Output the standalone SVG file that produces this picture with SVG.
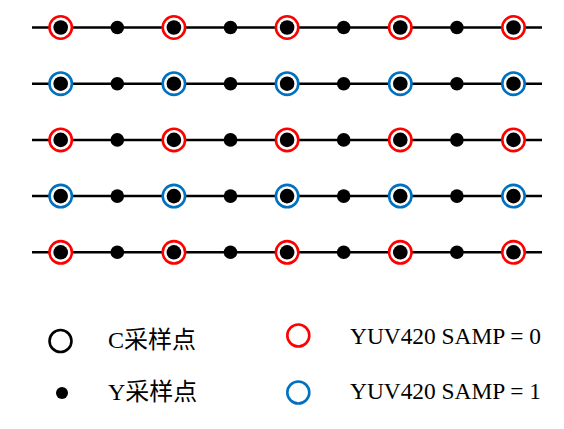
<svg xmlns="http://www.w3.org/2000/svg" xmlns:xlink="http://www.w3.org/1999/xlink" width="564" height="429" viewBox="0 0 564 429">
<style>
.ln{stroke:#000;stroke-width:2.5;fill:none}
.r0{stroke:#FF0000;stroke-width:2.6;fill:#fff}
.r1{stroke:#0070C0;stroke-width:2.6;fill:#fff}
.rk{stroke:#000;stroke-width:2.6;fill:#fff}
.cd{fill:#000}
.yd{fill:#000}
.t{font-family:"Liberation Serif","Noto Sans CJK SC",serif;font-size:24px;fill:#000}
.t2{font-size:23.4px}
</style>
<defs>
<g id="c0"><circle class="r0" r="11.2"/><circle class="cd" r="7.3"/></g>
<g id="c1"><circle class="r1" r="11.2"/><circle class="cd" r="7.3"/></g>
<g id="yd"><circle class="yd" r="6.8"/></g>
</defs>
<g id="connectors">
<line class="ln" x1="32" y1="27.5" x2="542" y2="27.5"/>
<line class="ln" x1="32" y1="83.7" x2="542" y2="83.7"/>
<line class="ln" x1="32" y1="139.9" x2="542" y2="139.9"/>
<line class="ln" x1="32" y1="196.1" x2="542" y2="196.1"/>
<line class="ln" x1="32" y1="252.3" x2="542" y2="252.3"/>
</g>
<g id="row1">
<g id="n1_1"><use xlink:href="#c0" x="60.7" y="27.5"/></g>
<g id="n1_2"><use xlink:href="#yd" x="117.3" y="27.5"/></g>
<g id="n1_3"><use xlink:href="#c0" x="173.9" y="27.5"/></g>
<g id="n1_4"><use xlink:href="#yd" x="230.5" y="27.5"/></g>
<g id="n1_5"><use xlink:href="#c0" x="287.1" y="27.5"/></g>
<g id="n1_6"><use xlink:href="#yd" x="343.7" y="27.5"/></g>
<g id="n1_7"><use xlink:href="#c0" x="400.3" y="27.5"/></g>
<g id="n1_8"><use xlink:href="#yd" x="456.9" y="27.5"/></g>
<g id="n1_9"><use xlink:href="#c0" x="513.5" y="27.5"/></g>
</g>
<g id="row2">
<g id="n2_1"><use xlink:href="#c1" x="60.7" y="83.7"/></g>
<g id="n2_2"><use xlink:href="#yd" x="117.3" y="83.7"/></g>
<g id="n2_3"><use xlink:href="#c1" x="173.9" y="83.7"/></g>
<g id="n2_4"><use xlink:href="#yd" x="230.5" y="83.7"/></g>
<g id="n2_5"><use xlink:href="#c1" x="287.1" y="83.7"/></g>
<g id="n2_6"><use xlink:href="#yd" x="343.7" y="83.7"/></g>
<g id="n2_7"><use xlink:href="#c1" x="400.3" y="83.7"/></g>
<g id="n2_8"><use xlink:href="#yd" x="456.9" y="83.7"/></g>
<g id="n2_9"><use xlink:href="#c1" x="513.5" y="83.7"/></g>
</g>
<g id="row3">
<g id="n3_1"><use xlink:href="#c0" x="60.7" y="139.9"/></g>
<g id="n3_2"><use xlink:href="#yd" x="117.3" y="139.9"/></g>
<g id="n3_3"><use xlink:href="#c0" x="173.9" y="139.9"/></g>
<g id="n3_4"><use xlink:href="#yd" x="230.5" y="139.9"/></g>
<g id="n3_5"><use xlink:href="#c0" x="287.1" y="139.9"/></g>
<g id="n3_6"><use xlink:href="#yd" x="343.7" y="139.9"/></g>
<g id="n3_7"><use xlink:href="#c0" x="400.3" y="139.9"/></g>
<g id="n3_8"><use xlink:href="#yd" x="456.9" y="139.9"/></g>
<g id="n3_9"><use xlink:href="#c0" x="513.5" y="139.9"/></g>
</g>
<g id="row4">
<g id="n4_1"><use xlink:href="#c1" x="60.7" y="196.1"/></g>
<g id="n4_2"><use xlink:href="#yd" x="117.3" y="196.1"/></g>
<g id="n4_3"><use xlink:href="#c1" x="173.9" y="196.1"/></g>
<g id="n4_4"><use xlink:href="#yd" x="230.5" y="196.1"/></g>
<g id="n4_5"><use xlink:href="#c1" x="287.1" y="196.1"/></g>
<g id="n4_6"><use xlink:href="#yd" x="343.7" y="196.1"/></g>
<g id="n4_7"><use xlink:href="#c1" x="400.3" y="196.1"/></g>
<g id="n4_8"><use xlink:href="#yd" x="456.9" y="196.1"/></g>
<g id="n4_9"><use xlink:href="#c1" x="513.5" y="196.1"/></g>
</g>
<g id="row5">
<g id="n5_1"><use xlink:href="#c0" x="60.7" y="252.3"/></g>
<g id="n5_2"><use xlink:href="#yd" x="117.3" y="252.3"/></g>
<g id="n5_3"><use xlink:href="#c0" x="173.9" y="252.3"/></g>
<g id="n5_4"><use xlink:href="#yd" x="230.5" y="252.3"/></g>
<g id="n5_5"><use xlink:href="#c0" x="287.1" y="252.3"/></g>
<g id="n5_6"><use xlink:href="#yd" x="343.7" y="252.3"/></g>
<g id="n5_7"><use xlink:href="#c0" x="400.3" y="252.3"/></g>
<g id="n5_8"><use xlink:href="#yd" x="456.9" y="252.3"/></g>
<g id="n5_9"><use xlink:href="#c0" x="513.5" y="252.3"/></g>
</g>
<g id="legend">
<g id="leg_c"><circle class="rk" cx="60.5" cy="341" r="11"/><text class="t" x="108" y="348">C采样点</text></g>
<g id="leg_y"><circle class="yd" cx="62" cy="393" r="6"/><text class="t" x="108" y="400">Y采样点</text></g>
<g id="leg_0"><circle class="r0" cx="298.3" cy="335.5" r="11"/><text class="t t2" x="350" y="344">YUV420 SAMP = 0</text></g>
<g id="leg_1"><circle class="r1" cx="298.3" cy="392.5" r="11"/><text class="t t2" x="350" y="399">YUV420 SAMP = 1</text></g>
</g>
</svg>
